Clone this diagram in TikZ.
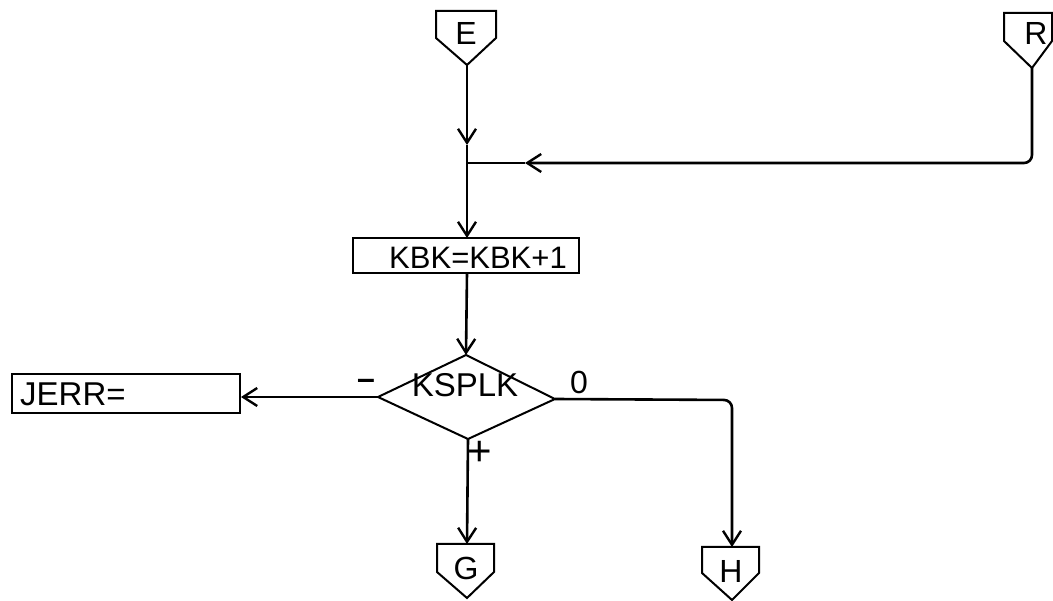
\documentclass[tikz,border=0pt]{standalone}
\usepackage{fontspec}
\setmainfont{Liberation Sans}
\usetikzlibrary{arrows.meta}
\tikzset{
  shp/.style={line width=2pt, line join=miter},
  flow/.style={line width=2.6pt},
  vtip/.style={-{Straight Barb[length=14pt,width=18pt,line width=2.4pt]}},
  lbl/.style={inner sep=0pt, font=\fontsize{32}{34}\selectfont},
  mid/.style={inner sep=0pt, font=\fontsize{31}{33}\selectfont},
  big/.style={inner sep=0pt, font=\fontsize{33}{35}\selectfont},
  sgn/.style={inner sep=0pt, font=\fontsize{32}{34}\selectfont},
  plus/.style={inner sep=0pt, font=\fontsize{42}{44}\selectfont},
}
\begin{document}
\begin{tikzpicture}[x=1pt,y=-1pt]
\useasboundingbox (0,0) rectangle (1053,601);
\clip (0,0) rectangle (1053,601);
% connector E
\draw[shp] (436,11) -- (496,11) -- (496,38) -- (467,65) -- (436,38) -- cycle;
\node[lbl] (E) at (466,33) {E};
\coordinate (Et) at (467,65);
% connector R
\draw[shp] (1004,13) -- (1052,13) -- (1052,41) -- (1032,68) -- (1004,41) -- cycle;
\node[lbl] (R) at (1036,33) {R};
\coordinate (Rt) at (1032,68);
% join
\coordinate (J) at (467,163);
\coordinate (Ea) at (467,145);
\coordinate (Ra) at (525,163);
% KBK box
\draw[shp] (353,238) rectangle (579,273);
\node[mid] (K) at (478,258) {KBK=KBK+1};
\coordinate (Ktop) at (467,238);
\coordinate (Kbot) at (467,273);
% diamond
\coordinate (Dt) at (466,355);
\coordinate (Dl) at (378,397);
\coordinate (Dr) at (555,399);
\coordinate (Db) at (468,439);
\draw[shp] (Dt) -- (Dr) -- (Db) -- (Dl) -- cycle;
\node[big] (D) at (465,385) {KSPLK};
% JERR box
\draw[shp] (12,374) rectangle (240,413);
\node[big, anchor=west] (JE) at (20,394) {JERR=};
\coordinate (JEr) at (241,397);
% G connector
\draw[shp] (437,544) -- (494,544) -- (494,572) -- (467,598) -- (437,572) -- cycle;
\node[lbl] (G) at (466,568) {G};
\coordinate (Gt) at (467,544);
% H connector
\draw[shp] (702,547) -- (759,547) -- (759,573) -- (732,600) -- (702,573) -- cycle;
\node[lbl] (H) at (731,571) {H};
\coordinate (Ht) at (732,547);
% flow lines
\draw[flow, vtip] (Et) -- (Ea);
\draw[flow] (Ea) -- (J);
\draw[flow, vtip, rounded corners=8pt] (Rt) -- (1032,163) -- (Ra);
\draw[flow] (Ra) -- (J);
\draw[flow, vtip] (J) -- (Ktop);
\draw[flow, vtip] (Kbot) -- (Dt);
\draw[flow, vtip] (Dl) -- (JEr);
\draw[flow, vtip] (Db) -- (Gt);
\draw[flow, vtip, rounded corners=8pt] (Dr) -- (732,400) -- (Ht);
% branch labels
\node[sgn] (m) at (366,384) {\textbf{–}};
\node[sgn] (z) at (579,382) {0};
\node[plus] (p) at (480,453) {+};
\end{tikzpicture}
\end{document}
